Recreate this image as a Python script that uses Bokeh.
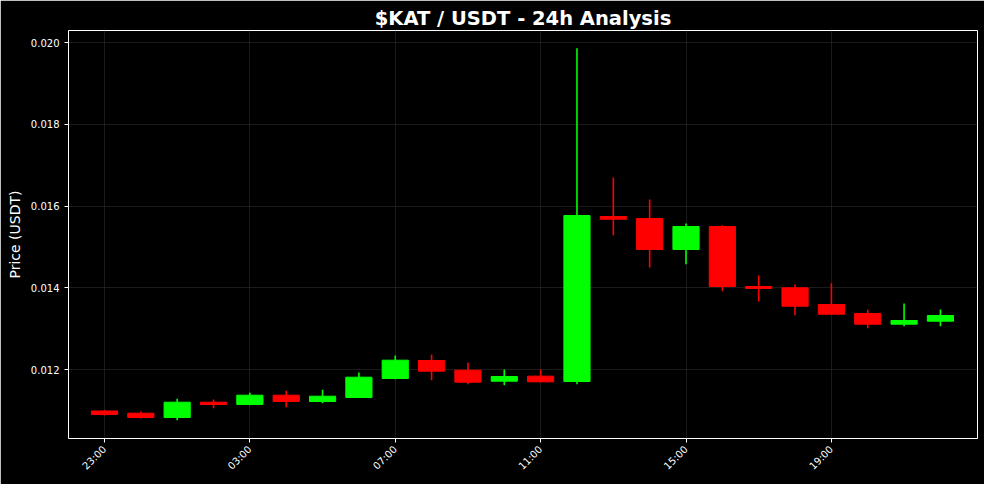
import numpy as np
from bokeh.plotting import figure
from bokeh.models import FixedTicker, NumeralTickFormatter, Range1d
from bokeh.embed import file_html
from bokeh.resources import INLINE

times = ["23:00", "00:00", "01:00", "02:00", "03:00", "04:00", "05:00", "06:00",
         "07:00", "08:00", "09:00", "10:00", "11:00", "12:00", "13:00", "14:00",
         "15:00", "16:00", "17:00", "18:00", "19:00", "20:00", "21:00", "22:00"]
opens = [0.010985, 0.010931, 0.010826, 0.011200, 0.011144, 0.011371, 0.011217, 0.011315,
         0.011780, 0.012220, 0.011983, 0.011714, 0.011837, 0.011706, 0.015743, 0.015694,
         0.014936, 0.015499, 0.014031, 0.013999, 0.013590, 0.013370, 0.013108, 0.013182]
closes = [0.010899, 0.010826, 0.011200, 0.011144, 0.011371, 0.011217, 0.011347, 0.011812,
          0.012228, 0.011959, 0.011690, 0.011829, 0.011699, 0.015768, 0.015677, 0.014936,
          0.015499, 0.014031, 0.013982, 0.013549, 0.013353, 0.013108, 0.013199, 0.013321]
highs = [0.011009, 0.010972, 0.011283, 0.011266, 0.011430, 0.011479, 0.011503, 0.011927,
         0.012343, 0.012367, 0.012171, 0.012000, 0.012000, 0.019861, 0.016697, 0.016159,
         0.015572, 0.015530, 0.014300, 0.014080, 0.014111, 0.013461, 0.013615, 0.013468]
lows = [0.010875, 0.010801, 0.010760, 0.011053, 0.011127, 0.011078, 0.011176, 0.011315,
        0.011763, 0.011739, 0.011641, 0.011616, 0.011690, 0.011641, 0.015286, 0.014495,
        0.014576, 0.013915, 0.013664, 0.013328, 0.013353, 0.013010, 0.013059, 0.013059]
tick_labels = ["23:00", "03:00", "07:00", "11:00", "15:00", "19:00"]

GREEN = "#00ff00"
RED = "#ff0000"

x = list(range(len(times)))
colors = [GREEN if c >= o else RED for o, c in zip(opens, closes)]
body_top = [max(o, c) for o, c in zip(opens, closes)]
body_bot = [min(o, c) for o, c in zip(opens, closes)]

p = figure(width=984, height=484, output_backend="svg", toolbar_location=None,
           x_range=Range1d(-0.99, 24.02), y_range=Range1d(0.010312, 0.020294),
           background_fill_color="black", border_fill_color="black",
           min_border_left=68, min_border_right=7, min_border_top=30, min_border_bottom=46,
           title="$KAT / USDT - 24h Analysis")
p.frame_width = 909
p.frame_height = 408

p.title.text_color = "white"
p.title.text_font = "DejaVu Sans"
p.title.text_font_size = "19.5px"
p.title.text_font_style = "bold"
p.title.align = "center"
p.title.standoff = 2
p.title.offset = 0

p.outline_line_color = "white"
p.outline_line_width = 1

p.segment(x0=x, y0=lows, x1=x, y1=highs, line_color=colors, line_width=1.6)
p.vbar(x=x, width=0.72, top=body_top, bottom=body_bot, fill_color=colors, line_color=colors, line_width=1)

p.xaxis.ticker = FixedTicker(ticks=[times.index(t) for t in tick_labels])
p.xaxis.major_label_overrides = {times.index(t): t for t in tick_labels}
p.xaxis.major_label_orientation = np.pi / 4
p.yaxis.ticker = FixedTicker(ticks=[0.012, 0.014, 0.016, 0.018, 0.020])
p.yaxis.formatter = NumeralTickFormatter(format="0.000")
p.yaxis.axis_label = "Price (USDT)"
p.yaxis.axis_label_text_color = "white"
p.yaxis.axis_label_text_font = "DejaVu Sans"
p.yaxis.axis_label_text_font_size = "14px"
p.yaxis.axis_label_text_font_style = "normal"

for ax in (p.xaxis, p.yaxis):
    ax.axis_line_color = None
    ax.major_tick_line_color = "white"
    ax.minor_tick_line_color = None
    ax.major_tick_out = 4
    ax.major_tick_in = 0
    ax.major_label_text_color = "white"
    ax.major_label_text_font = "DejaVu Sans"
    ax.major_label_text_font_size = "10px"

p.grid.grid_line_color = "#2a2a2a"
p.grid.grid_line_alpha = 0.8
p.grid.grid_line_width = 0.8

open("out.html", "w").write(file_html(p, INLINE))
